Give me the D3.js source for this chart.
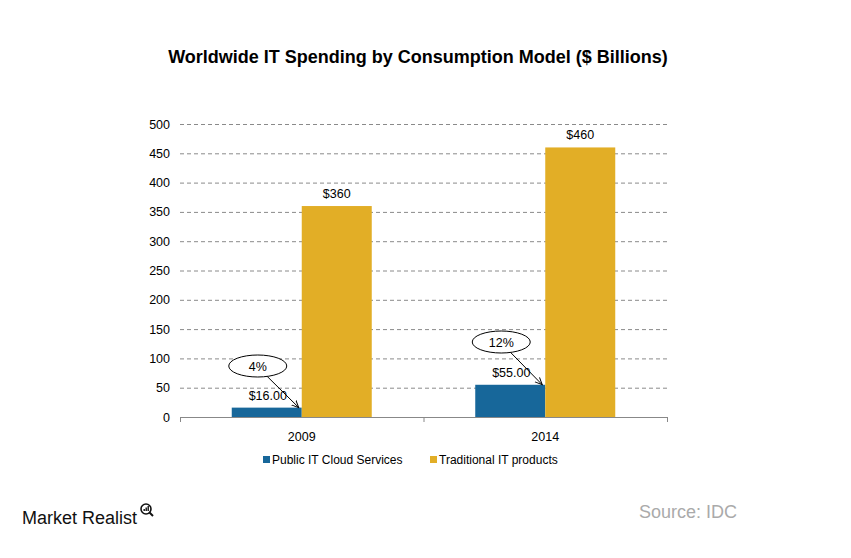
<!DOCTYPE html>
<html><head><meta charset="utf-8">
<script src="https://cdn.jsdelivr.net/npm/d3@7"></script>
<style>body{margin:0;background:#fff}text{font-family:"Liberation Sans",Arial,sans-serif}</style>
</head><body>
<script>
const categories = ["2009", "2014"];
const seriesNames = ["Public IT Cloud Services", "Traditional IT products"];
const cloudValues = [16, 55];
const traditionalValues = [360, 460];
const cloudLabels = ["$16.00", "$55.00"];
const traditionalLabels = ["$360", "$460"];
const shareLabels = ["4%", "12%"];
const yTicks = [0, 50, 100, 150, 200, 250, 300, 350, 400, 450, 500];
const colors = ["#17679a", "#e2ae26"];

const W = 851, H = 558;
const svg = d3.select("body").append("svg").attr("width", W).attr("height", H);
const m = {l: 180, r: 667, t: 124, b: 417};

const x0 = d3.scaleBand().domain(categories).range([m.l, m.r]);
const x1 = d3.scaleBand().domain(seriesNames).range([0, 140]);
const y = d3.scaleLinear().domain([0, 500]).range([m.b, m.t]);

svg.append("text").attr("x", 418).attr("y", 63).attr("text-anchor", "middle")
  .style("font-weight", "bold").style("font-size", "18px").text("Worldwide IT Spending by Consumption Model ($ Billions)");

// grid
svg.append("g").selectAll("line").data(yTicks.filter(d => d > 0)).join("line")
  .attr("x1", m.l).attr("x2", m.r).attr("y1", d => y(d) + 0.5).attr("y2", d => y(d) + 0.5)
  .attr("stroke", "#8a8a8a").attr("stroke-dasharray", "4,3");

const yAxis = svg.append("g").attr("transform", `translate(${m.l},0)`)
  .call(d3.axisLeft(y).tickValues(yTicks).tickSize(0).tickPadding(10));
yAxis.select(".domain").remove();
yAxis.selectAll("text").style("font-size", "12.5px").attr("fill", "#000");

const data = categories.map((c, i) => ({c, vals: [cloudValues[i], traditionalValues[i]], labels: [cloudLabels[i], traditionalLabels[i]]}));
const g = svg.append("g").selectAll("g").data(data).join("g")
  .attr("transform", d => `translate(${x0(d.c) + (x0.bandwidth() - 140) / 2},0)`);
g.selectAll("rect").data(d => d.vals.map((v, j) => ({v, s: seriesNames[j], j}))).join("rect")
  .attr("x", d => x1(d.s)).attr("width", x1.bandwidth())
  .attr("y", d => y(d.v)).attr("height", d => y(0) - y(d.v)).attr("fill", d => colors[d.j]);

// traditional labels
g.append("text").attr("x", x1(seriesNames[1]) + x1.bandwidth() / 2)
  .attr("y", d => y(d.vals[1]) - 8).attr("text-anchor", "middle").style("font-size", "12.5px")
  .text(d => d.labels[1]);
// cloud labels
g.append("text").attr("x", x1(seriesNames[0]) + x1.bandwidth() / 2 + 1)
  .attr("y", d => y(d.vals[0]) - 8).attr("text-anchor", "middle").style("font-size", "12.5px")
  .text(d => d.labels[0]);

// axis
svg.append("line").attr("x1", m.l).attr("x2", m.r).attr("y1", m.b + 0.5).attr("y2", m.b + 0.5).attr("stroke", "#888");
[m.l, m.l + x0.bandwidth(), m.r].forEach(px => {
  svg.append("line").attr("x1", px + 0.5).attr("x2", px + 0.5).attr("y1", m.b).attr("y2", m.b + 5).attr("stroke", "#888");
});
svg.append("g").selectAll("text").data(categories).join("text")
  .attr("x", d => x0(d) + x0.bandwidth() / 2).attr("y", 441).attr("text-anchor", "middle")
  .style("font-size", "12.5px").text(d => d);

// callouts
svg.append("defs").append("marker").attr("id", "arr").attr("viewBox", "0 0 10 10").attr("refX", 9).attr("refY", 5)
  .attr("markerWidth", 8).attr("markerHeight", 8).attr("orient", "auto")
  .append("path").attr("d", "M0,1 L9,5 L0,9").attr("fill", "none").attr("stroke", "#000").attr("stroke-width", 1.2);
const callouts = data.map((d, i) => {
  const bx = x0(d.c) + (x0.bandwidth() - 140) / 2;
  const ex = bx + x1.bandwidth() - 3, ey = y(d.vals[0]);
  return {cx: bx + 26, cy: i === 0 ? 366 : 342, ex, ey, t: shareLabels[i]};
});
const cg = svg.append("g").selectAll("g").data(callouts).join("g");
cg.append("line").attr("x1", d => d.cx + 5).attr("y1", d => d.cy + 6).attr("x2", d => d.ex).attr("y2", d => d.ey)
  .attr("stroke", "#000").attr("marker-end", "url(#arr)");
cg.append("ellipse").attr("cx", d => d.cx).attr("cy", d => d.cy).attr("rx", 29).attr("ry", 11)
  .attr("fill", "#fff").attr("stroke", "#000");
cg.append("text").attr("x", d => d.cx).attr("y", d => d.cy + 4.5).attr("text-anchor", "middle")
  .style("font-size", "12.5px").text(d => d.t);

// legend
const leg = svg.append("g").selectAll("g").data(seriesNames).join("g")
  .attr("transform", (d, i) => `translate(${i === 0 ? 263 : 430},460)`);
leg.append("rect").attr("x", 0).attr("y", -4).attr("width", 7).attr("height", 7).attr("fill", (d, i) => colors[i]);
leg.append("text").attr("x", 9).attr("y", 4).style("font-size", "12px").text(d => d);

// footer
svg.append("text").attr("x", 22).attr("y", 524).style("font-size", "18px").attr("fill", "#111")
  .attr("textLength", 115).attr("lengthAdjust", "spacingAndGlyphs").text("Market Realist");
const lg = svg.append("g").attr("transform", "translate(146,509)");
lg.append("circle").attr("r", 5).attr("fill", "none").attr("stroke", "#111").attr("stroke-width", 1.6);
lg.append("line").attr("x1", 3.5).attr("y1", 3.5).attr("x2", 7).attr("y2", 7).attr("stroke", "#111").attr("stroke-width", 2);
[[-2.5, 2], [-0.5, 3.5], [1.5, 5]].forEach(([bx, bh]) => lg.append("rect").attr("x", bx).attr("y", 2 - bh).attr("width", 1.4).attr("height", bh).attr("fill", "#111"));
svg.append("text").attr("x", 639).attr("y", 518).style("font-size", "18px").attr("fill", "#aaa").text("Source: IDC");
</script>
</body></html>
